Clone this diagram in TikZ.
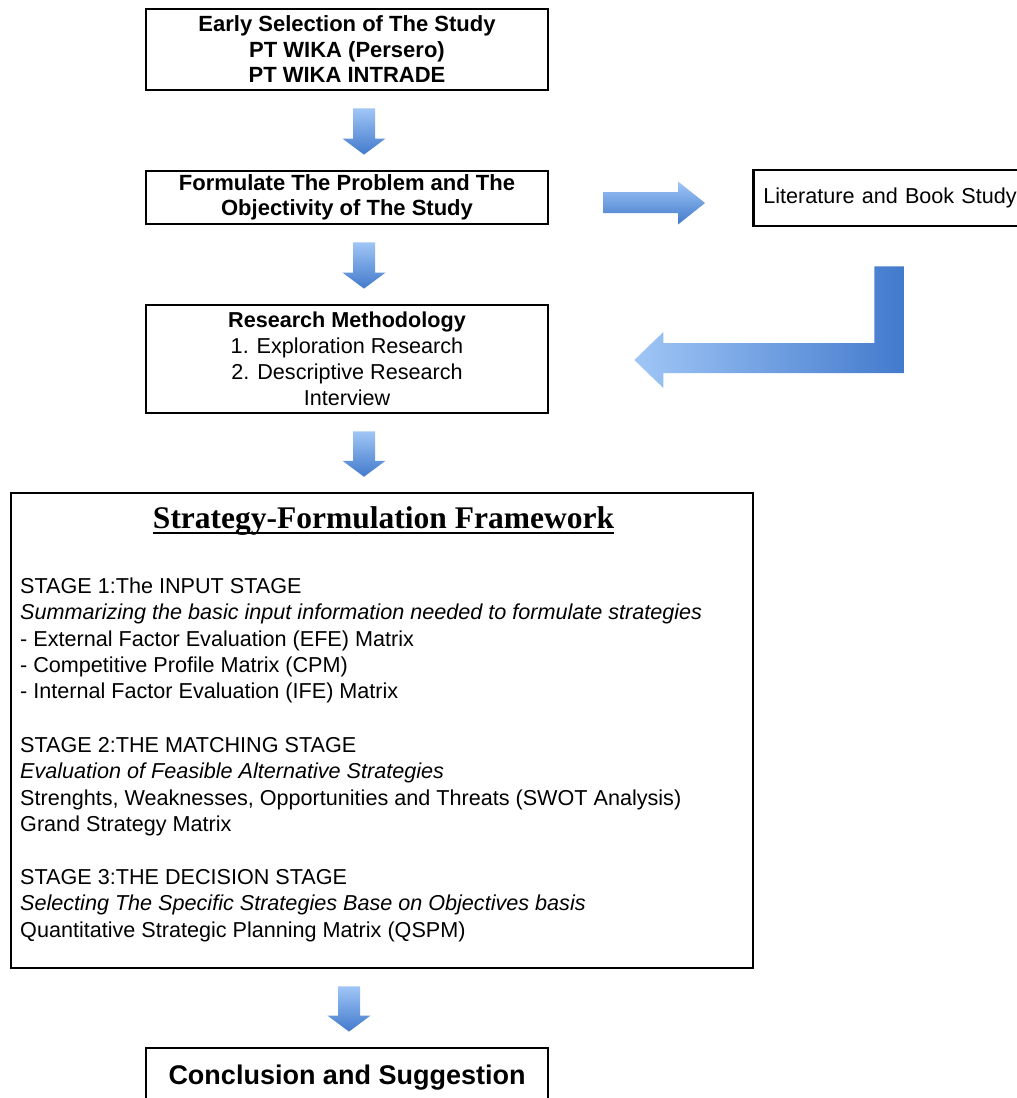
\documentclass[tikz,border=0pt]{standalone}
\usepackage{fontspec}
\setmainfont{Liberation Sans}
\newfontfamily\titlefont{Liberation Serif}
\usetikzlibrary{calc}
\definecolor{arrLight}{RGB}{160,198,246}
\definecolor{arrDark}{RGB}{66,122,204}
\tikzset{
  box/.style={draw=black, line width=2.8pt, fill=white, align=center, inner sep=0pt,
    minimum width=402pt, font=\fontsize{22}{25.5}\selectfont\bfseries},
  bigbox/.style={draw=black, line width=2.5pt, fill=white, inner sep=0pt},
  stxt/.style={anchor=base west, inner sep=0pt, font=\fontsize{21.6}{26}\selectfont},
  sitx/.style={stxt, font=\fontsize{21.6}{26}\selectfont\itshape},
  vshade/.style={top color=arrLight, bottom color=arrDark},
  hshade/.style={left color=arrLight, right color=arrDark},
}
\newcommand\blockdown[3]{%
  \path[vshade] let \p1=(#1.south), \p2=(#2.north) in
    (#3-11pt,\y1-17pt) -- (#3+11pt,\y1-17pt) -- (#3+11pt,\y2+31pt) -- (#3+21.5pt,\y2+31pt)
    -- (#3,\y2+15pt) -- (#3-21.5pt,\y2+31pt) -- (#3-11pt,\y2+31pt) -- cycle;}
\begin{document}
\begin{tikzpicture}[x=1pt,y=-1pt]
\useasboundingbox (0,0) rectangle (1017,1098);
\clip (0,0) rectangle (1017,1098);
\fill[white] (0,0) rectangle (1017,1098);

% boxes
\node[box, minimum height=81pt] (b1) at (347,49.5)
  {Early Selection of The Study\\PT WIKA (Persero)\\PT WIKA INTRADE};
\node[box, minimum height=53pt] (b2) at (347,197.5)
  {Formulate The Problem and The\\Objectivity of The Study};
\node[box, minimum height=108pt, font=\fontsize{21.6}{26}\selectfont] (b3) at (347,359)
  {\textbf{Research Methodology}\\1. Exploration Research\\2. Descriptive Research\\Interview};
\node[box, anchor=west, align=left, minimum width=0pt, text width=258pt, inner xsep=10pt,
  minimum height=56pt, font=\fontsize{21.6}{26}\selectfont] (lit) at (752,198)
  {Literature and Book Study};
\node[bigbox, minimum width=742pt, minimum height=475pt] (fw) at (382,730.5) {};
\node[box, minimum height=60pt, font=\fontsize{27}{30}\selectfont\bfseries] (cs) at (347,1078)
  {Conclusion and Suggestion};

% framework contents
\node[anchor=base, inner sep=0pt, font=\titlefont\fontsize{31.5}{34}\selectfont\bfseries] (title) at (383.5,528)
  {Strategy-Formulation Framework};
\draw[line width=2pt] ($(title.base west)+(0,5)$) -- ($(title.base east)+(0,5)$);

\node[stxt] (s1) at (20,593) {STAGE 1:The INPUT STAGE};
\node[sitx] (s1a) at (20,619) {Summarizing the basic input information needed to formulate strategies};
\node[stxt] (s1b) at (20,646) {- External Factor Evaluation (EFE) Matrix};
\node[stxt] (s1c) at (20,672) {- Competitive Profile Matrix (CPM)};
\node[stxt] (s1d) at (20,698) {- Internal Factor Evaluation (IFE) Matrix};
\node[stxt] (s2) at (20,752) {STAGE 2:THE MATCHING STAGE};
\node[sitx] (s2a) at (20,778) {Evaluation of Feasible Alternative Strategies};
\node[stxt] (s2b) at (20,805) {Strenghts, Weaknesses, Opportunities and Threats (SWOT Analysis)};
\node[stxt] (s2c) at (20,831) {Grand Strategy Matrix};
\node[stxt] (s3) at (20,884) {STAGE 3:THE DECISION STAGE};
\node[sitx] (s3a) at (20,910) {Selecting The Specific Strategies Base on Objectives basis};
\node[stxt] (s3b) at (20,937) {Quantitative Strategic Planning Matrix (QSPM)};

% block arrows down
\blockdown{b1}{b2}{364pt}
\blockdown{b2}{b3}{364pt}
\blockdown{b3}{fw}{364pt}
\blockdown{fw}{cs}{349pt}

% right arrow b2 -> lit
\path[vshade] let \p1=(b2.east), \p2=(lit.west) in
  (\x1+54pt,-192pt) -- (\x2-74pt,-192pt) -- (\x2-74pt,-181.5pt) -- (\x2-47pt,-203pt)
  -- (\x2-74pt,-224.5pt) -- (\x2-74pt,-213pt) -- (\x1+54pt,-213pt) -- cycle;

% bent arrow lit -> b3
\path[hshade] let \p1=(lit.south), \p2=(b3.east) in
  (\x1-18pt,\y1-39pt) -- (\x1+12pt,\y1-39pt) -- (\x1+12pt,-373pt) -- (\x2+114pt,-373pt)
  -- (\x2+114pt,-388pt) -- (\x2+85pt,-360pt) -- (\x2+114pt,-332pt) -- (\x2+114pt,-343pt)
  -- (\x1-18pt,-343pt) -- cycle;
\end{tikzpicture}
\end{document}
